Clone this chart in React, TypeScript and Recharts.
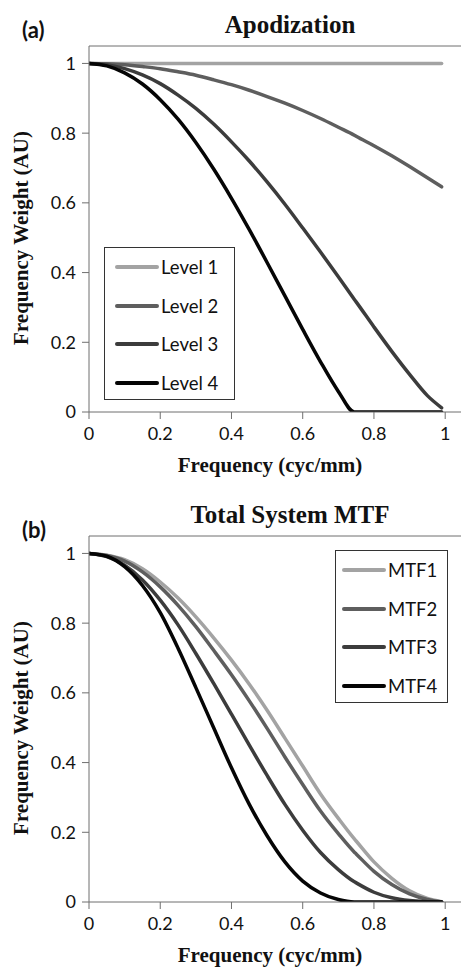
import { Legend, Line, LineChart, ReferenceLine, XAxis, YAxis } from "recharts"

// frequency samples (cyc/mm)
const frequency = [
  0, 0.05, 0.1, 0.15, 0.2, 0.25, 0.3, 0.35, 0.4, 0.45, 0.5, 0.55, 0.6, 0.65, 0.7, 0.745, 0.75, 0.8, 0.85,
  0.9, 0.95, 0.99,
]

// (a) apodization levels
const level1 = [1, 1, 1, 1, 1, 1, 1, 1, 1, 1, 1, 1, 1, 1, 1, 1, 1, 1, 1, 1, 1, 1]
const level2 = [
  1, 0.999, 0.996, 0.991, 0.985, 0.976, 0.966, 0.953, 0.939, 0.923, 0.905, 0.886, 0.865, 0.842, 0.817, 0.794,
  0.791, 0.764, 0.735, 0.704, 0.672, 0.646,
]
const level3 = [
  1, 0.996, 0.985, 0.967, 0.942, 0.909, 0.871, 0.826, 0.775, 0.72, 0.66, 0.596, 0.528, 0.459, 0.388, 0.323,
  0.316, 0.244, 0.174, 0.108, 0.047, 0.012,
]
const level4 = [
  1, 0.993, 0.973, 0.941, 0.896, 0.84, 0.773, 0.697, 0.613, 0.523, 0.429, 0.333, 0.237, 0.144, 0.059, 0, 0, 0,
  0, 0, 0, 0,
]

// (b) total system MTF
const mtf1 = [
  1, 0.995, 0.982, 0.956, 0.918, 0.872, 0.818, 0.758, 0.694, 0.625, 0.55, 0.47, 0.39, 0.31, 0.24, 0.181, 0.175,
  0.115, 0.068, 0.032, 0.01, 0.001,
]
const mtf2 = [
  1, 0.994, 0.978, 0.947, 0.904, 0.851, 0.79, 0.722, 0.652, 0.577, 0.498, 0.416, 0.337, 0.261, 0.196, 0.143,
  0.138, 0.088, 0.05, 0.023, 0.007, 0,
]
const mtf3 = [
  1, 0.991, 0.966, 0.924, 0.866, 0.795, 0.713, 0.627, 0.539, 0.45, 0.363, 0.28, 0.206, 0.142, 0.093, 0.058,
  0.055, 0.028, 0.012, 0.004, 0.001, 0,
]
const mtf4 = [
  1, 0.992, 0.962, 0.908, 0.83, 0.728, 0.615, 0.5, 0.385, 0.28, 0.19, 0.115, 0.06, 0.026, 0.007, 0, 0, 0, 0, 0,
  0, 0,
]

const levelNames = ["Level 1", "Level 2", "Level 3", "Level 4"]
const mtfNames = ["MTF1", "MTF2", "MTF3", "MTF4"]
const axisTicks = [0, 0.2, 0.4, 0.6, 0.8, 1]

const grays = ["#a3a3a3", "#5e5e5e", "#3c3c3c", "#050505"]
const AXIS = "#6f6f6f"
const SANS = "Lato, 'Open Sans', sans-serif"
const SERIF = "'Liberation Serif', 'Times New Roman', serif"

type LegendBox = { left: number; top: number; width: number; height: number; sampleLeft: number; firstY: number }

type PanelProps = {
  tag: string
  tagBaseline: number
  title: string
  names: string[]
  series: number[][]
  legend: LegendBox
}

function BoxLegend({ payload, box }: { payload?: any[]; box: LegendBox }) {
  return (
    <div
      style={{
        position: "relative",
        width: box.width,
        height: box.height,
        boxSizing: "border-box",
        border: "1px solid #333",
        background: "#fff",
      }}
    >
      {(payload ?? []).map((entry, i) => (
        <div
          key={entry.value}
          style={{
            position: "absolute",
            left: box.sampleLeft,
            top: box.firstY + i * 38.5 - 11,
            height: 22,
            display: "flex",
            alignItems: "center",
            fontFamily: SANS,
            fontSize: 18.5,
            color: "#111",
            whiteSpace: "nowrap",
          }}
        >
          <svg width={46} height={8} style={{ display: "block" }}>
            <line x1={3} y1={4} x2={43} y2={4} stroke={entry.color} strokeWidth={4} strokeLinecap="round" />
          </svg>
          <span style={{ marginLeft: 1, lineHeight: "22px" }}>{entry.value}</span>
        </div>
      ))}
    </div>
  )
}

function Panel({ tag, tagBaseline, title, names, series, legend }: PanelProps) {
  const data = frequency.map((f, i) => {
    const row: Record<string, number> = { frequency: f }
    series.forEach((s, k) => {
      row[`s${k}`] = s[i]
    })
    return row
  })

  return (
    <div style={{ position: "relative", width: 461, height: 490, overflow: "hidden" }}>
      <LineChart width={464} height={480} data={data} margin={{ top: 46, right: 1, left: 0, bottom: 38 }}>
        <XAxis
          dataKey="frequency"
          type="number"
          domain={[0, 1.05]}
          ticks={axisTicks}
          allowDataOverflow
          tickSize={7}
          tickMargin={8}
          stroke={AXIS}
          tick={{ fill: "#111", fontSize: 18, fontFamily: SANS }}
        />
        <YAxis
          type="number"
          domain={[0, 1.05]}
          ticks={axisTicks}
          allowDataOverflow
          width={89}
          tickSize={7}
          tickMargin={6}
          stroke={AXIS}
          tick={{ fill: "#111", fontSize: 18, fontFamily: SANS }}
        />
        <ReferenceLine y={1.05} stroke={AXIS} />
        {names.map((name, k) => (
          <Line
            key={name}
            type="monotone"
            dataKey={`s${k}`}
            name={name}
            stroke={grays[k]}
            strokeWidth={3.5}
            strokeLinecap="round"
            dot={false}
            isAnimationActive={false}
          />
        ))}
        <Legend
          layout="horizontal"
          verticalAlign="middle"
          align="center"
          wrapperStyle={{ left: legend.left, top: legend.top, width: legend.width, height: legend.height }}
          content={(props: any) => <BoxLegend payload={props.payload} box={legend} />}
        />
      </LineChart>
      <svg
        width={461}
        height={490}
        style={{ position: "absolute", left: 0, top: 0, pointerEvents: "none" }}
      >
        <text x={22} y={tagBaseline} fontFamily={SANS} fontWeight={700} fontSize={22} fill="#111">
          {tag}
        </text>
        <text x={290} y={33} textAnchor="middle" fontFamily={SERIF} fontWeight={700} fontSize={25} fill="#111">
          {title}
        </text>
        <text
          transform="translate(28,238) rotate(-90)"
          textAnchor="middle"
          fontFamily={SERIF}
          fontWeight={700}
          fontSize={21}
          fill="#111"
        >
          Frequency Weight (AU)
        </text>
        <text x={270} y={472} textAnchor="middle" fontFamily={SERIF} fontWeight={700} fontSize={21} fill="#111">
          Frequency (cyc/mm)
        </text>
      </svg>
    </div>
  )
}

export default function App() {
  return (
    <div style={{ position: "absolute", left: 0, top: 0, width: 461, height: 968, background: "#fff", overflow: "hidden" }}>
      <Panel
        tag="(a)"
        tagBaseline={38}
        title="Apodization"
        names={levelNames}
        series={[level1, level2, level3, level4]}
        legend={{ left: 104, top: 247, width: 131, height: 153, sampleLeft: 9, firstY: 19 }}
      />
      <Panel
        tag="(b)"
        tagBaseline={48}
        title="Total System MTF"
        names={mtfNames}
        series={[mtf1, mtf2, mtf3, mtf4]}
        legend={{ left: 335, top: 60, width: 113, height: 153, sampleLeft: 5, firstY: 19 }}
      />
    </div>
  )
}
